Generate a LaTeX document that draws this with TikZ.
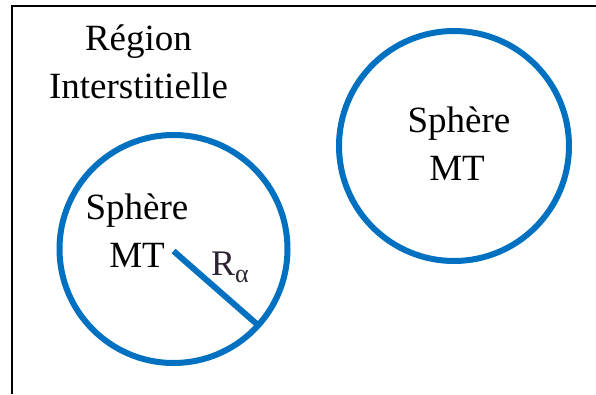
\documentclass[tikz,border=0pt]{standalone}
\usepackage{fontspec}
\setmainfont{Liberation Serif}
\definecolor{mtblue}{RGB}{0,112,192}
\definecolor{rdark}{RGB}{45,35,50}
\begin{document}
\begin{tikzpicture}[x=1pt,y=-1pt,
  lbl/.style={anchor=base,inner sep=0pt,font=\fontsize{37}{44}\selectfont},
  sphere/.style={circle,draw=mtblue,line width=6pt,outer sep=0pt,inner sep=0pt}]
\useasboundingbox (0,0) rectangle (596,394);
% frame
\draw[line width=2pt] (11.5,394) -- (11.5,5.5) -- (596,5.5);
% spheres
\node[sphere,minimum size=228pt] (c1) at (173.5,249) {};
\node[sphere,minimum size=230pt] (c2) at (454,146) {};
\coordinate (c1c) at (173.5,251);
\draw[mtblue,line width=6pt] (c1c) -- (c1.-42.5);
% labels
\node[lbl] (reg) at (138.5,50) {Région};
\node[lbl] (inter) at (138.5,98) {Interstitielle};
\node[lbl] (s1) at (137,219) {Sphère};
\node[lbl] (m1) at (137,267) {MT};
\node[lbl] (s2) at (459,132) {Sphère};
\node[lbl] (m2) at (457,180) {MT};
\node[anchor=base west,inner sep=0pt,text=rdark,font=\fontsize{36}{40}\selectfont] (ra) at (211,275) {R{\fontsize{26}{26}\selectfont\raisebox{-7pt}{α}}};
\end{tikzpicture}
\end{document}
